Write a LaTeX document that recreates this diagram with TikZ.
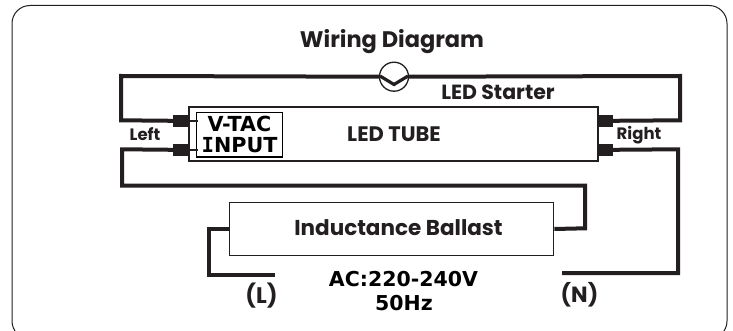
\documentclass[tikz,border=0pt]{standalone}
\usepackage{fontspec}
\setmainfont{Poppins}
\newfontfamily\vfont{DejaVu Sans}
\newfontfamily\monof{DejaVu Sans Mono}
\definecolor{ink}{HTML}{231F20}
\tikzset{
 wire/.style={draw=ink,line width=4pt,line join=miter},
 thinwire/.style={draw=ink,line width=3.4pt,line join=miter},
 boxed/.style={draw=ink,line width=1.6pt,fill=white,inner sep=0pt},
 plug/.style={fill=ink,draw=none,minimum width=16pt,minimum height=12pt,inner sep=0pt},
 lab/.style={text=ink,font=\fontsize{#1}{#1}\selectfont\bfseries,inner sep=0pt},
 vlab/.style={text=black,font=\vfont\bfseries\fontsize{#1}{21}\selectfont,inner sep=0pt,align=center}
}
\begin{document}
\begin{tikzpicture}[x=1pt,y=-1pt]
\useasboundingbox (0,0) rectangle (733,331);
\fill[white] (0,0) rectangle (733,331);
\draw[draw=ink,line width=1pt,rounded corners=18pt] (12,5.5) rectangle (727,339);
\node[lab=22.5] (title) at (392,42) {Wiring Diagram};
% tube and ballast
\node[boxed,minimum width=409pt,minimum height=54pt] (tube) at (393.5,134) {};
\node[boxed,minimum width=324pt,minimum height=53pt] (ballast) at (391.5,229) {};
\node[lab=21] (tubelab) at (394,134.5) {LED TUBE};
\node[lab=21.5] (balllab) at (398.5,228) {Inductance Ballast};
\node[boxed,draw=black,minimum width=86pt,minimum height=44.5pt] (vtac) at (239.3,134.7) {};
\node[vlab=20.7] (vtaclab) at (239.5,134.5) {V-TAC\\{\monof\bfseries I}NPUT};
% plugs
\node[plug] (pl1) at (181,120.8) {};
\node[plug] (pl2) at (181,149.8) {};
\node[plug] (pr1) at (605,120.8) {};
\node[plug] (pr2) at (605,149.8) {};
\draw[ink,line width=2.4pt] (pl1.east) -- ++(8.5,0);
\draw[ink,line width=2.4pt] (pl2.east) -- ++(8.5,0);
% starter
\node[circle,draw=ink,line width=1.3pt,fill=white,minimum size=29pt,inner sep=0pt] (starter) at (394,76.7) {};
\draw[wire] (pl1.west) -- (121,120.3) -- (121,76) -- (starter.west);
\draw[wire] (pr1.east) -- (680,120.3) -- (680,76) -- (starter.east);
\draw[ink,line width=3.2pt] (380,76) -- (394,84.5) -- (408,76);
% lower wires
\draw[wire] (pl2.west) -- (122,149.3) -- (122,185.7) -- (585,185.7) -- (585,228.3) -- (ballast.east);
\coordinate (nend) at (562,273);
\draw[wire] (pr2.east) -- (678,149.3) -- (678,273) -- (nend);
\coordinate (lend) at (275,275);
\draw[thinwire] (ballast.west) -- (209,229) -- (209,275) -- (lend);
% labels
\node[lab=20.5] (start) at (498,92) {LED Starter};
\node[lab=16.5] (left) at (145,134) {Left};
\node[lab=16.5] (right) at (639,135) {Right};
\node[vlab=20.5] (ac) at (403.5,279) {AC:220-240V};
\node[vlab=20.5] (hz) at (404,303) {50Hz};
\node[lab=22.5] (l) at (261.5,296) {(L)};
\node[lab=22] (n) at (579.5,295) {(N)};
\end{tikzpicture}
\end{document}
